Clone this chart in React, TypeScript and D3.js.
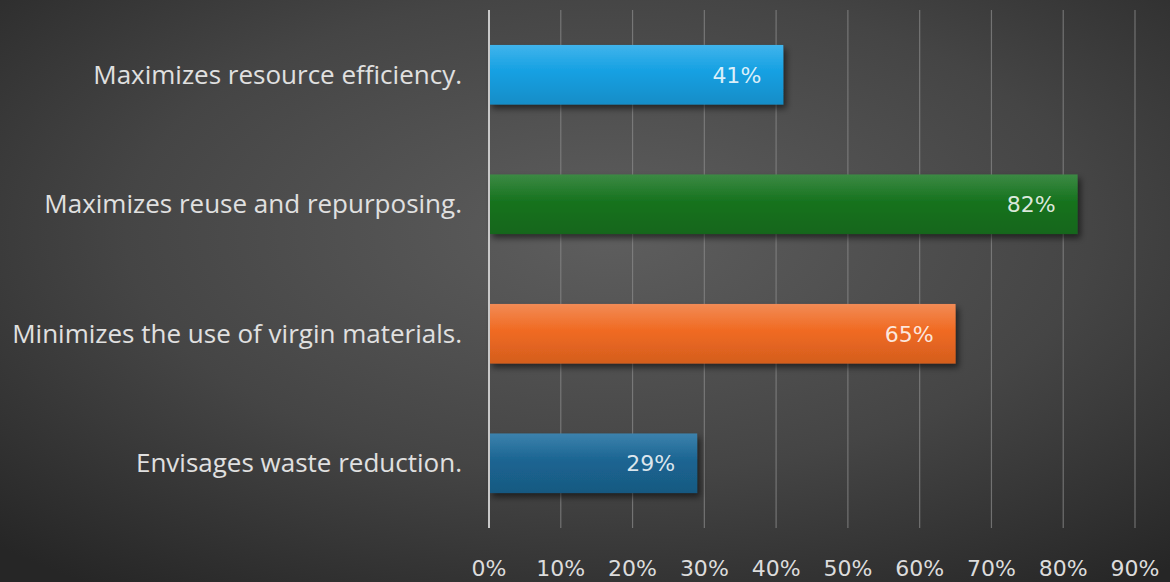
import React from "react";
import * as d3 from "d3";

const categories = [
  "Maximizes resource efficiency.",
  "Maximizes reuse and repurposing.",
  "Minimizes the use of virgin materials.",
  "Envisages waste reduction.",
];
const values = [41, 82, 65, 29];
const barColors = ["#14a0e2", "#17731f", "#f06a22", "#1b6592"];
const barTops = ["#40b4ec", "#3c8a44", "#f28b55", "#3c82ad"];
const ticks = [0, 10, 20, 30, 40, 50, 60, 70, 80, 90];

const W = 1170;
const H = 582;

export default function App() {
  const x = d3.scaleLinear().domain([0, 90]).range([489, 1135]);
  const y = d3
    .scaleBand<string>()
    .domain(categories)
    .range([10, 528])
    .paddingInner(0.54)
    .paddingOuter(0.27);
  const bh = y.bandwidth();

  return (
    <svg
      width={W}
      height={H}
      style={{ position: "absolute", left: 0, top: 0, display: "block" }}
    >
      <defs>
        <radialGradient id="bg" cx="52%" cy="40%" r="75%" fx="52%" fy="40%">
          <stop offset="0%" stopColor="#5e5e5e" />
          <stop offset="55%" stopColor="#454545" />
          <stop offset="100%" stopColor="#262626" />
        </radialGradient>
        {barColors.map((c, i) => (
          <linearGradient key={i} id={`bar${i}`} x1="0" y1="0" x2="0" y2="1">
            <stop offset="0%" stopColor={barTops[i]} />
            <stop offset="45%" stopColor={c} />
            <stop offset="100%" stopColor={d3.color(c)!.darker(0.35).toString()} />
          </linearGradient>
        ))}
        <filter id="shadow" x="-5%" y="-20%" width="115%" height="160%">
          <feDropShadow dx="3" dy="4" stdDeviation="3" floodColor="#000" floodOpacity="0.55" />
        </filter>
      </defs>
      <rect x={0} y={0} width={W} height={H} fill="url(#bg)" />
      {ticks.slice(1).map((t) => (
        <line
          key={t}
          x1={x(t)}
          x2={x(t)}
          y1={10}
          y2={528}
          stroke="#8a8a8a"
          strokeOpacity={0.7}
          strokeWidth={1.2}
        />
      ))}
      {categories.map((c, i) => (
        <rect
          key={c}
          x={x(0)}
          y={y(c)}
          width={x(values[i]) - x(0)}
          height={bh}
          fill={`url(#bar${i})`}
          filter="url(#shadow)"
        />
      ))}
      <line x1={x(0)} x2={x(0)} y1={10} y2={528} stroke="#c8c8c8" strokeWidth={2} />
      {categories.map((c, i) => (
        <text
          key={c}
          x={462}
          y={(y(c) ?? 0) + bh / 2}
          dy="0.35em"
          textAnchor="end"
          fill="#e0e0e0"
          fontFamily="'Open Sans', 'Noto Sans', sans-serif"
          fontSize={26}
        >
          {c}
        </text>
      ))}
      {categories.map((c, i) => (
        <text
          key={c}
          x={x(values[i]) - 22}
          y={(y(c) ?? 0) + bh / 2}
          dy="0.36em"
          textAnchor="end"
          fill="#ffffff"
          fillOpacity={0.85}
          fontFamily="'DejaVu Sans', sans-serif"
          fontSize={22}
        >
          {values[i]}%
        </text>
      ))}
      {ticks.map((t) => (
        <text
          key={t}
          x={x(t)}
          y={576}
          textAnchor="middle"
          fill="#dcdcdc"
          fontFamily="'DejaVu Sans', sans-serif"
          fontSize={22}
        >
          {t}%
        </text>
      ))}
    </svg>
  );
}
